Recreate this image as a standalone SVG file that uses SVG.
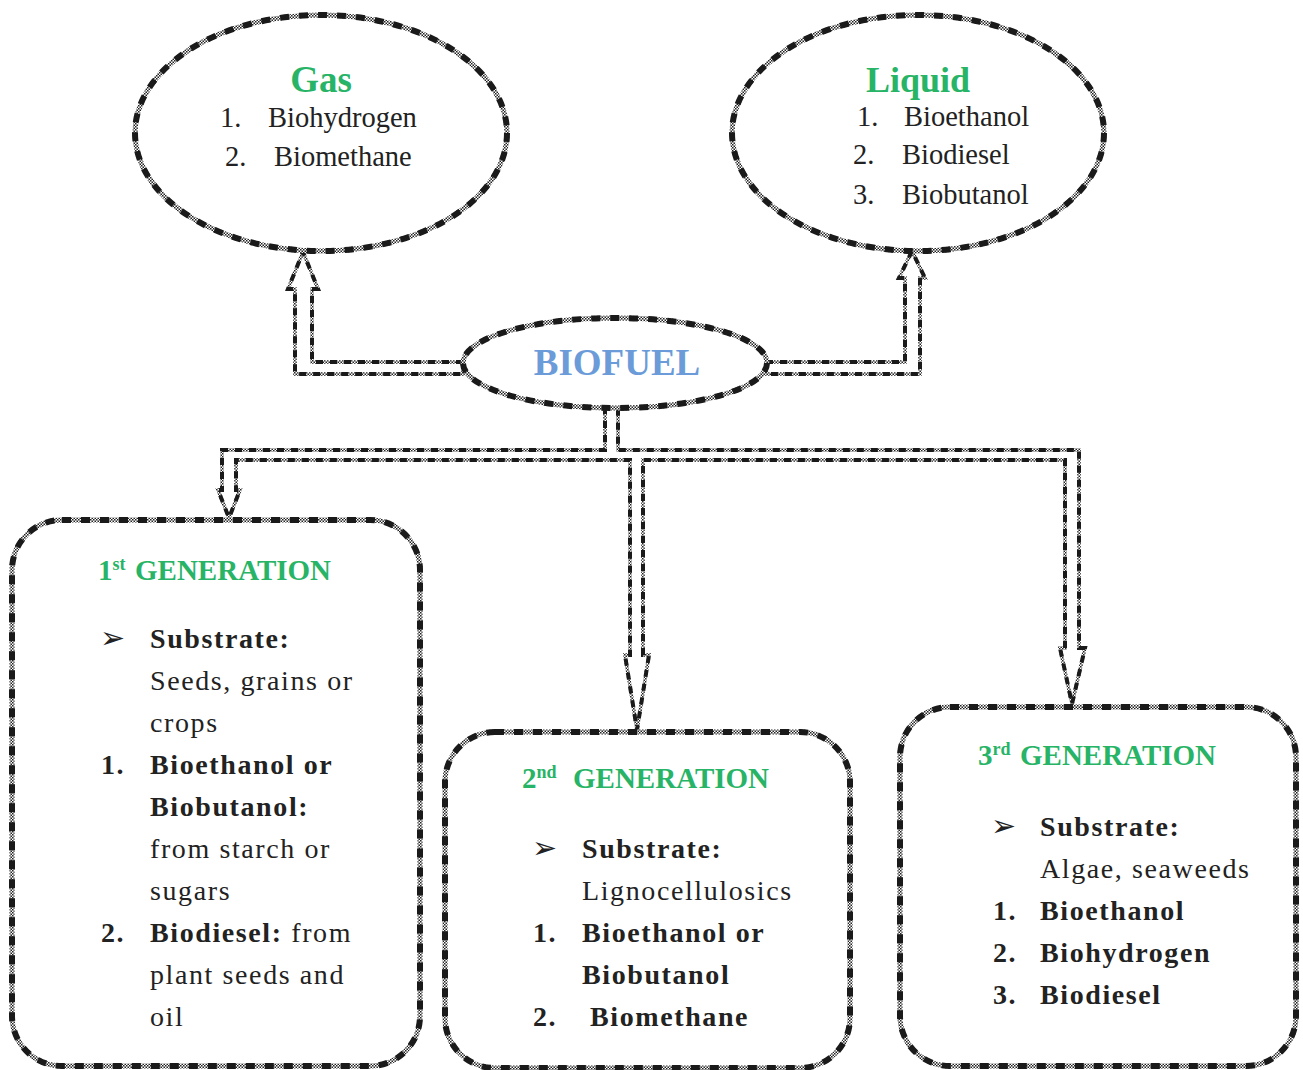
<svg xmlns="http://www.w3.org/2000/svg" width="1303" height="1070" viewBox="0 0 1303 1070">
<defs>
<pattern id="chk" width="3" height="3" patternUnits="userSpaceOnUse">
<rect width="3" height="3" fill="#ffffff"/>
<rect width="1.5" height="1.5" fill="#222"/>
<rect x="1.5" y="1.5" width="1.5" height="1.5" fill="#222"/>
</pattern>
</defs>
<style>
.b1{fill:#fff;stroke:url(#chk);stroke-width:5}
.b2{fill:none;stroke:#1a1a1a;stroke-width:6;stroke-dasharray:9 10}
.c1{fill:#fff;stroke:url(#chk);stroke-width:3.5;stroke-linejoin:miter}
.c2{fill:none;stroke:#1a1a1a;stroke-width:4;stroke-dasharray:7 7}
.t{font-family:"Liberation Serif","Times New Roman",serif;fill:#222}
.e{font-size:28.5px}
.bx{font-size:28px;letter-spacing:1.6px}
.bo{font-weight:bold}
.g{font-family:"Liberation Serif","Times New Roman",serif;font-weight:bold;fill:#27b466}
.h{font-size:29px}
.sp{font-size:18px}
.bl{font-family:"DejaVu Sans",sans-serif;font-size:30px;fill:#222}
</style>
<rect width="1303" height="1070" fill="#fff"/>

<g id="connectors">
<path class="c1" d="M463,362 L312,362 L312,289 L318,289 L303,252 L288,289 L295,289 L295,374 L463,374 Z"/>
<path class="c2" d="M463,362 L312,362 L312,289 L318,289 L303,252 L288,289 L295,289 L295,374 L463,374"/>
<path class="c1" d="M766,362 L905,362 L905,278 L899,278 L912,251 L925,278 L920,278 L920,374 L766,374 Z"/>
<path class="c2" d="M766,362 L905,362 L905,278 L899,278 L912,251 L925,278 L920,278 L920,374 L766,374"/>
<path class="c1" d="M605,407 L605,450 L222,450 L222,490 L218,490 L229,518 L240,490 L236,490 L236,460 L630,460 L630,655 L625,655 L637,730 L649,655 L643,655 L643,460 L1065,460 L1065,648 L1060,648 L1072,704 L1085,648 L1079,648 L1079,450 L618,450 L618,407 Z"/>
<path class="c2" d="M605,407 L605,450 L222,450 L222,490 L218,490 L229,518 L240,490 L236,490 L236,460 L630,460 L630,655 L625,655 L637,730 L649,655 L643,655 L643,460 L1065,460 L1065,648 L1060,648 L1072,704 L1085,648 L1079,648 L1079,450 L618,450 L618,407"/>
</g>

<g id="gas">
<ellipse class="b1" cx="321" cy="133" rx="186" ry="118"/>
<ellipse class="b2" cx="321" cy="133" rx="186" ry="118"/>
<text class="g" x="321" y="92" font-size="37" text-anchor="middle">Gas</text>
<text class="t e" x="220" y="127">1.</text>
<text class="t e" x="268" y="127">Biohydrogen</text>
<text class="t e" x="225" y="166">2.</text>
<text class="t e" x="274" y="166">Biomethane</text>
</g>

<g id="liquid">
<ellipse class="b1" cx="918" cy="133" rx="186" ry="118"/>
<ellipse class="b2" cx="918" cy="133" rx="186" ry="118"/>
<text class="g" x="918" y="92" font-size="36" text-anchor="middle">Liquid</text>
<text class="t e" x="857" y="126">1.</text>
<text class="t e" x="904" y="126">Bioethanol</text>
<text class="t e" x="853" y="164">2.</text>
<text class="t e" x="902" y="164">Biodiesel</text>
<text class="t e" x="853" y="204">3.</text>
<text class="t e" x="902" y="204">Biobutanol</text>
</g>

<g id="biofuel">
<ellipse class="b1" cx="615" cy="363" rx="152" ry="45"/>
<ellipse class="b2" cx="615" cy="363" rx="152" ry="45"/>
<text x="617" y="375" text-anchor="middle" font-family="Liberation Serif,serif" font-weight="bold" font-size="37" fill="#6b9bd8">BIOFUEL</text>
</g>

<g id="gen1">
<rect class="b1" x="12" y="520" width="408" height="546" rx="50" ry="50"/>
<rect class="b2" x="12" y="520" width="408" height="546" rx="50" ry="50"/>
<text class="g h" x="98" y="580">1<tspan class="sp" dy="-10">st</tspan></text>
<text class="g h" x="135" y="580">GENERATION</text>
<text class="bl" x="100" y="648">➢</text>
<text class="t bx bo" x="150" y="648">Substrate:</text>
<text class="t bx" x="150" y="690">Seeds, grains or</text>
<text class="t bx" x="150" y="732">crops</text>
<text class="t bx bo" x="101" y="774">1.</text>
<text class="t bx bo" x="150" y="774">Bioethanol or</text>
<text class="t bx bo" x="150" y="816">Biobutanol:</text>
<text class="t bx" x="150" y="858">from starch or</text>
<text class="t bx" x="150" y="900">sugars</text>
<text class="t bx bo" x="101" y="942">2.</text>
<text class="t bx" x="150" y="942"><tspan class="bo">Biodiesel:</tspan> from</text>
<text class="t bx" x="150" y="984">plant seeds and</text>
<text class="t bx" x="150" y="1026">oil</text>
</g>

<g id="gen2">
<rect class="b1" x="445" y="732" width="405" height="336" rx="50" ry="50"/>
<rect class="b2" x="445" y="732" width="405" height="336" rx="50" ry="50"/>
<text class="g h" x="522" y="788">2<tspan class="sp" dy="-10">nd</tspan></text>
<text class="g h" x="573" y="788">GENERATION</text>
<text class="bl" x="532" y="858">➢</text>
<text class="t bx bo" x="582" y="858">Substrate:</text>
<text class="t bx" x="582" y="900">Lignocellulosics</text>
<text class="t bx bo" x="533" y="942">1.</text>
<text class="t bx bo" x="582" y="942">Bioethanol or</text>
<text class="t bx bo" x="582" y="984">Biobutanol</text>
<text class="t bx bo" x="533" y="1026">2.</text>
<text class="t bx bo" x="590" y="1026">Biomethane</text>
</g>

<g id="gen3">
<rect class="b1" x="900" y="707" width="396" height="359" rx="50" ry="50"/>
<rect class="b2" x="900" y="707" width="396" height="359" rx="50" ry="50"/>
<text class="g h" x="978" y="765">3<tspan class="sp" dy="-10">rd</tspan></text>
<text class="g h" x="1020" y="765">GENERATION</text>
<text class="bl" x="991" y="836">➢</text>
<text class="t bx bo" x="1040" y="836">Substrate:</text>
<text class="t bx" x="1040" y="878">Algae, seaweeds</text>
<text class="t bx bo" x="993" y="920">1.</text>
<text class="t bx bo" x="1040" y="920">Bioethanol</text>
<text class="t bx bo" x="993" y="962">2.</text>
<text class="t bx bo" x="1040" y="962">Biohydrogen</text>
<text class="t bx bo" x="993" y="1004">3.</text>
<text class="t bx bo" x="1040" y="1004">Biodiesel</text>
</g>
</svg>
